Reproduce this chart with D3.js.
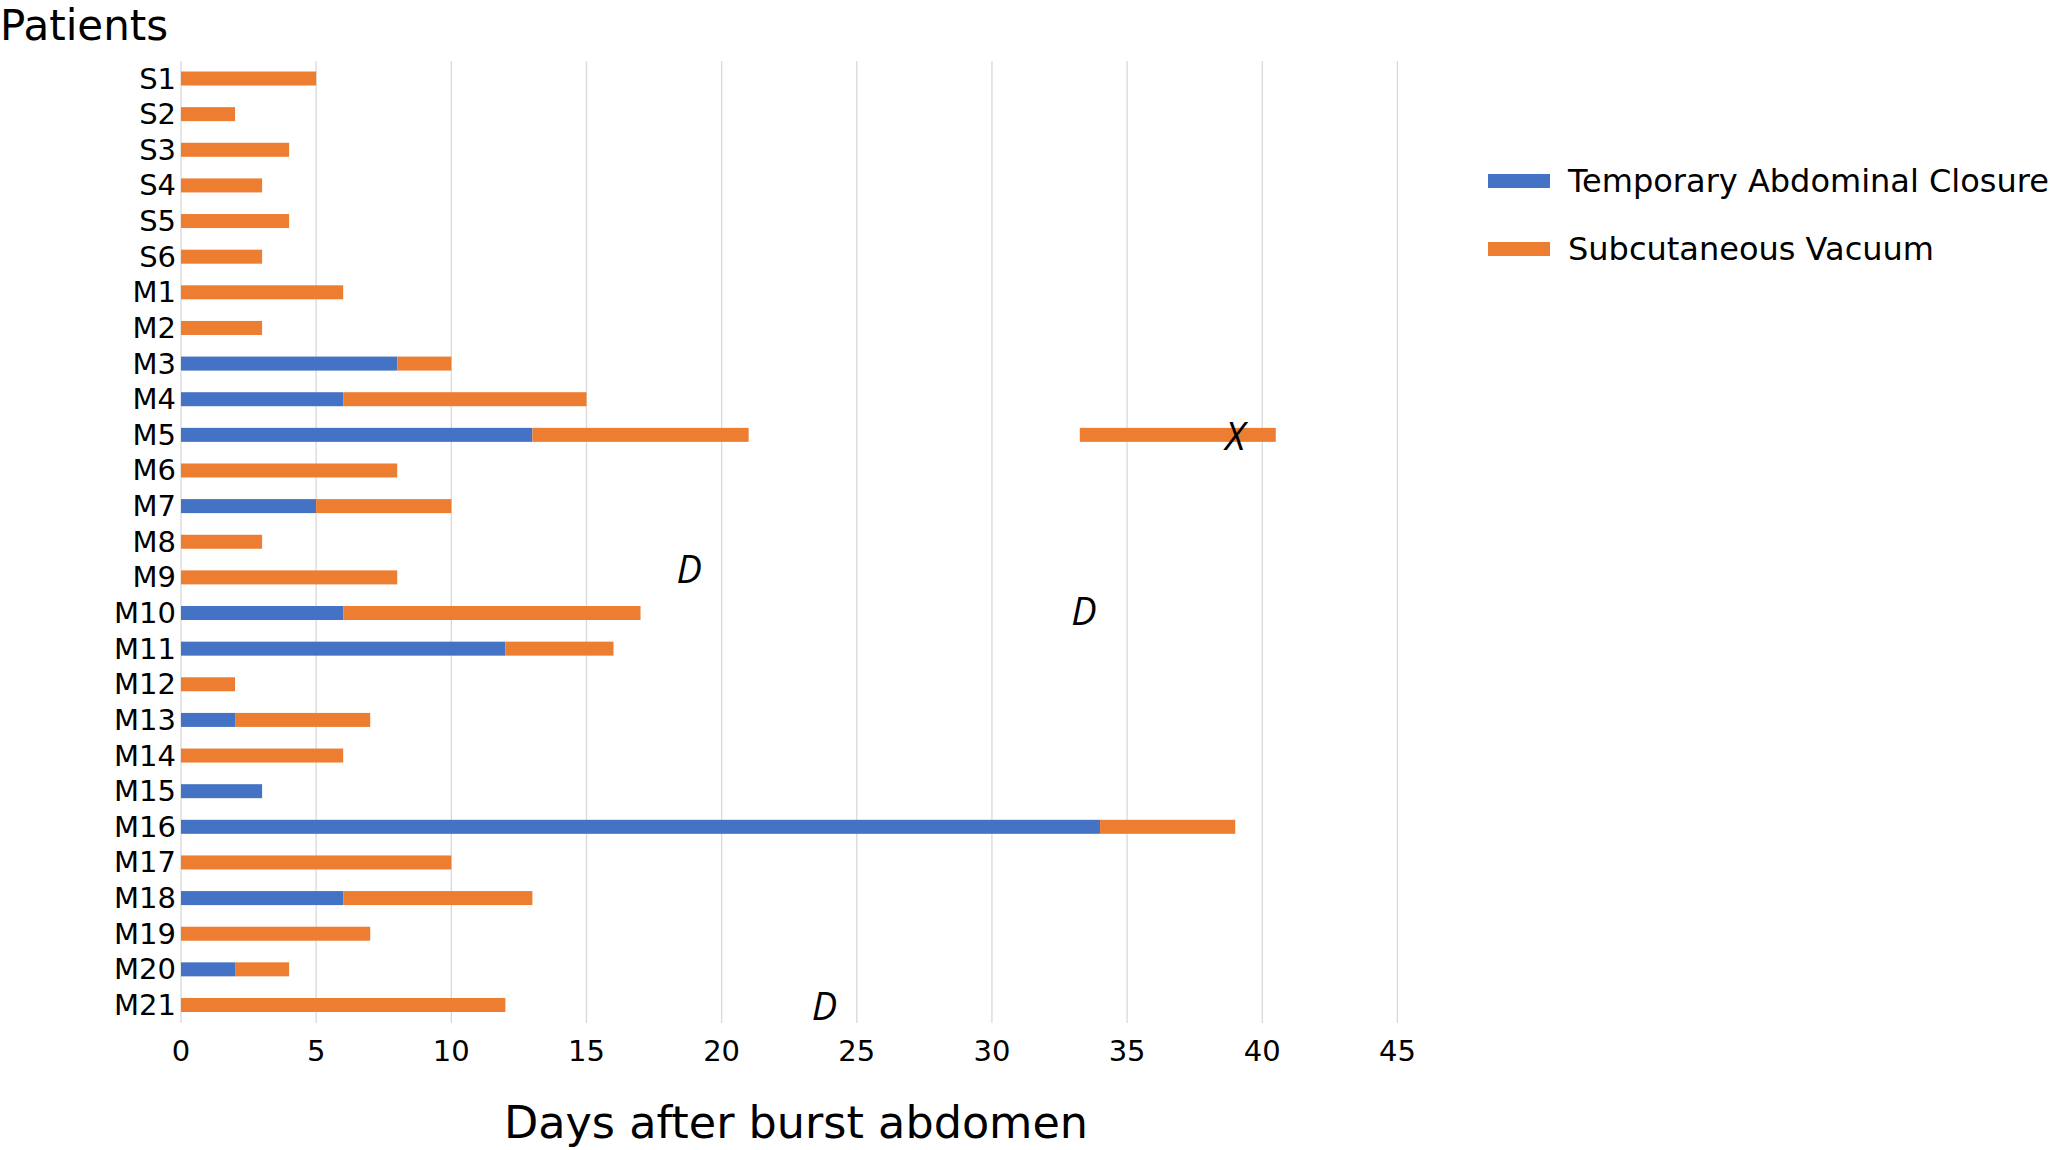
<!DOCTYPE html>
<html>
<head>
<meta charset="utf-8">
<script src="https://cdn.jsdelivr.net/npm/d3@7"></script>
<style>
  html, body { margin: 0; padding: 0; background: #ffffff; }
  svg { display: block; }
  text { font-family: "DejaVu Sans", Verdana, sans-serif; fill: #000; }
</style>
</head>
<body>
<svg id="chart" width="2056" height="1150"></svg>
<script>
// ---------- data ----------
const patients = ["S1","S2","S3","S4","S5","S6","M1","M2","M3","M4","M5","M6","M7","M8","M9","M10","M11","M12","M13","M14","M15","M16","M17","M18","M19","M20","M21"];
// days of Temporary Abdominal Closure (starting at day 0)
const tacDays = [0,0,0,0,0,0,0,0,8,6,13,0,5,0,0,6,12,0,2,0,3,34,0,6,0,2,0];
// days of Subcutaneous Vacuum following TAC
const svDays  = [5,2,4,3,4,3,6,3,2,9,8,8,5,3,8,11,4,2,5,6,0,5,10,7,7,2,12];
// additional (later) Subcutaneous Vacuum period
const extraSV = [{patient: "M5", start: 33.25, end: 40.5}];
// annotations: label, day, row position (patient index, fractional)
const annoLabels = ["X", "D", "D", "D"];
const annoDays   = [39, 18.8, 33.4, 23.8];
const annoRows   = [10, 13.75, 14.92, 26];
const xTicks = [0,5,10,15,20,25,30,35,40,45];
const seriesNames = ["Temporary Abdominal Closure", "Subcutaneous Vacuum"];
const seriesColors = ["#4472C4", "#ED7D31"];

// ---------- layout ----------
const svg = d3.select("#chart");
const x = d3.scaleLinear().domain([0, 45]).range([181, 1397.4]);
const y = d3.scaleBand().domain(patients).range([60.7, 1022.8]).padding(0);
const rowY = d3.scaleLinear().domain([0, patients.length - 1])
  .range([y(patients[0]) + y.bandwidth()/2, y(patients[patients.length-1]) + y.bandwidth()/2]);
const barH = 14;

// gridlines
svg.append("g").selectAll("line").data(xTicks).join("line")
  .attr("x1", d => x(d)).attr("x2", d => x(d))
  .attr("y1", 61).attr("y2", 1023)
  .attr("stroke", "#d9d9d9").attr("stroke-width", 1.3);

// stacked data
const rows = patients.map((p, i) => ({patient: p, tac: tacDays[i], sv: svDays[i]}));
const stack = d3.stack().keys(["tac", "sv"])(rows);

const gBars = svg.append("g");
stack.forEach((layer, li) => {
  gBars.append("g").attr("fill", seriesColors[li])
    .selectAll("rect").data(layer.filter(d => d[1] > d[0])).join("rect")
    .attr("x", d => x(d[0]))
    .attr("width", d => x(d[1]) - x(d[0]))
    .attr("y", d => y(d.data.patient) + y.bandwidth()/2 - barH/2)
    .attr("height", barH);
});
gBars.append("g").attr("fill", seriesColors[1])
  .selectAll("rect").data(extraSV).join("rect")
  .attr("x", d => x(d.start))
  .attr("width", d => x(d.end) - x(d.start))
  .attr("y", d => y(d.patient) + y.bandwidth()/2 - barH/2)
  .attr("height", barH);

// y axis labels
svg.append("g").selectAll("text").data(patients).join("text")
  .attr("x", 176)
  .attr("y", d => y(d) + y.bandwidth()/2)
  .attr("text-anchor", "end")
  .attr("dominant-baseline", "central")
  .attr("font-size", 29)
  .text(d => d);

// x axis tick labels
svg.append("g").selectAll("text").data(xTicks).join("text")
  .attr("x", d => x(d))
  .attr("y", 1061)
  .attr("text-anchor", "middle")
  .attr("font-size", 29)
  .text(d => d);

// annotations
svg.append("g").selectAll("text").data(annoLabels).join("text")
  .attr("x", (d, i) => x(annoDays[i]))
  .attr("y", (d, i) => rowY(annoRows[i]))
  .attr("text-anchor", "middle")
  .attr("dominant-baseline", "central")
  .attr("font-style", "italic")
  .attr("font-size", 38)
  .style("font-family", "'Open Sans', 'DejaVu Sans', sans-serif")
  .text(d => d);

// titles
svg.append("text").attr("x", 0).attr("y", 40)
  .attr("font-size", 42).text("Patients");
svg.append("text").attr("x", 796).attr("y", 1138)
  .attr("text-anchor", "middle")
  .attr("font-size", 44.5).text("Days after burst abdomen");

// legend
const legend = svg.append("g");
const legendY = [181, 249];
seriesNames.forEach((name, i) => {
  legend.append("rect")
    .attr("x", 1488).attr("y", legendY[i] - 7)
    .attr("width", 62).attr("height", 14)
    .attr("fill", seriesColors[i]);
  legend.append("text")
    .attr("x", 1568).attr("y", legendY[i])
    .attr("dominant-baseline", "central")
    .attr("font-size", 32)
    .text(name);
});
</script>
</body>
</html>
